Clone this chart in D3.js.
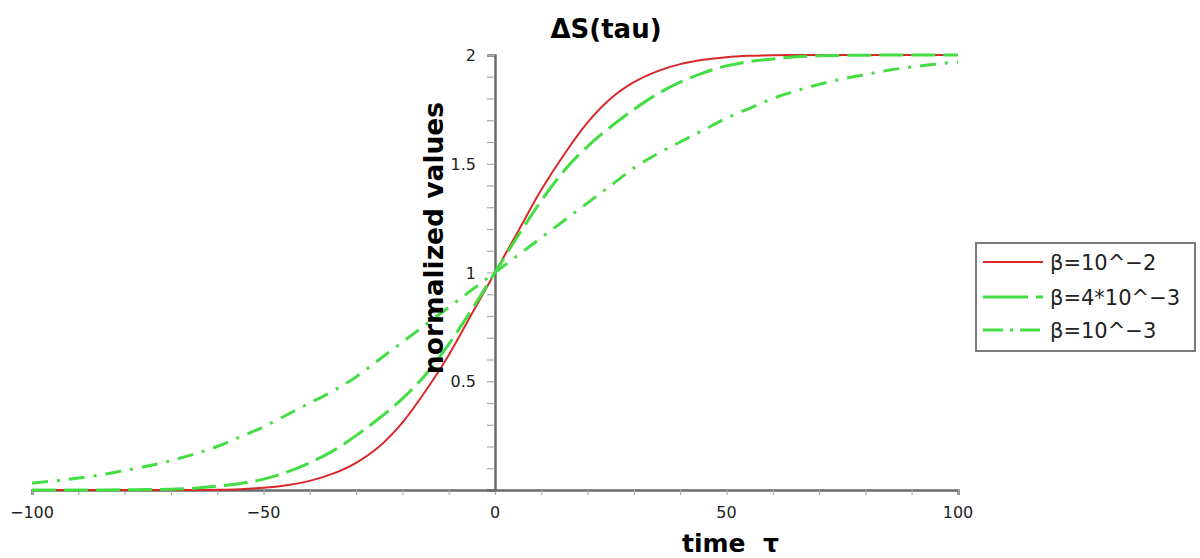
<!DOCTYPE html>
<html>
<head>
<meta charset="utf-8">
<script src="https://d3js.org/d3.v7.min.js"></script>
<style>
  body { margin: 0; background: #fff; }
  svg { display: block; }
  text { font-family: "DejaVu Sans", "Liberation Sans", sans-serif; }
</style>
</head>
<body>
<svg id="chart" width="1200" height="558"></svg>
<script>
// tau samples, every 5
const taus = [-100, -95, -90, -85, -80, -75, -70, -65, -60, -55, -50, -45, -40, -35, -30, -25, -20, -15, -10, -5,
  0, 5, 10, 15, 20, 25, 30, 35, 40, 45, 50, 55, 60, 65, 70, 75, 80, 85, 90, 95, 100];

// values
const beta1 = [0, 0, 0, 0, 0, 0, 0, 0, 0.001, 0.004, 0.01, 0.022, 0.042, 0.075, 0.125, 0.20, 0.31, 0.455, 0.62, 0.81,
  1, 1.19, 1.38, 1.545, 1.69, 1.80, 1.875, 1.925, 1.958, 1.978, 1.99, 1.996, 1.999, 2, 2, 2, 2, 2, 2, 2, 2];
const beta2 = [0, 0, 0, 0, 0.001, 0.002, 0.004, 0.008, 0.018, 0.03, 0.05, 0.082, 0.125, 0.18, 0.25, 0.33, 0.42, 0.53, 0.67, 0.83,
  1, 1.17, 1.33, 1.47, 1.58, 1.67, 1.75, 1.82, 1.875, 1.918, 1.95, 1.97, 1.982, 1.992, 1.996, 1.998, 1.999, 2, 2, 2, 2];
const beta3 = [0.032, 0.042, 0.055, 0.07, 0.09, 0.11, 0.135, 0.165, 0.20, 0.245, 0.29, 0.345, 0.40, 0.455, 0.52, 0.60, 0.68, 0.76, 0.84, 0.92,
  1, 1.08, 1.16, 1.24, 1.32, 1.40, 1.48, 1.545, 1.60, 1.655, 1.71, 1.755, 1.80, 1.835, 1.865, 1.89, 1.91, 1.93, 1.945, 1.958, 1.968];

const seriesNames = ['β=10^−2', 'β=4*10^−3', 'β=10^−3'];
const xTicks = [-100, -50, 0, 50, 100];
const yTicks = [0.5, 1, 1.5, 2];

const styles = [
  { color: '#d8282a', width: 2, dash: null, legendDash: null },
  { color: '#44dd44', width: 3, dash: '24,8', legendDash: '45,8' },
  { color: '#44dd44', width: 3, dash: '16,9,3,9', legendDash: '20,7,3,7' },
];

const svg = d3.select('svg#chart');

const x = d3.scaleLinear().domain([-100, 100]).range([32, 958]);
const y = d3.scaleLinear().domain([0, 2]).range([490, 55]);

// x axis (minor ticks every 10)
const xaxis = svg.append('g').attr('transform', 'translate(0,' + y(0) + ')');
xaxis.call(d3.axisBottom(x).tickValues(d3.range(-100, 101, 10)).tickSize(5).tickFormat(''));
xaxis.select('.domain').attr('stroke', '#6a6a6a').attr('stroke-width', 2.5);
xaxis.selectAll('.tick line').attr('stroke', '#aaa').attr('stroke-width', 1.2);

xaxis.selectAll('text.lab').data(xTicks).enter().append('text').classed('lab', true)
  .attr('x', d => x(d))
  .attr('y', 28)
  .attr('text-anchor', 'middle')
  .attr('font-size', 16)
  .attr('fill', '#222')
  .text(d => d3.format('')(d).replace('-', '−'));

// y axis (minor ticks every 0.1)
const yaxis = svg.append('g').attr('transform', 'translate(' + x(0) + ',0)');
yaxis.call(d3.axisLeft(y).tickValues(d3.range(1, 21).map(i => i / 10)).tickSize(8).tickFormat(''));
yaxis.select('.domain').attr('stroke', '#6a6a6a').attr('stroke-width', 2.5);
yaxis.selectAll('.tick line').attr('stroke', '#aaa').attr('stroke-width', 1.2);

yaxis.selectAll('text.lab').data(yTicks).enter().append('text').classed('lab', true)
  .attr('x', -19)
  .attr('y', d => y(d) + 6)
  .attr('text-anchor', 'end')
  .attr('font-size', 16)
  .attr('fill', '#222')
  .text(d => d);

// curves
const line = d3.line().x(d => x(d[0])).y(d => y(d[1])).curve(d3.curveMonotoneX);
const allSeries = [beta1, beta2, beta3];

svg.append('g').selectAll('path.curve').data(allSeries).enter().append('path').classed('curve', true)
  .attr('d', vals => line(taus.map((t, i) => [t, vals[i]])))
  .attr('fill', 'none')
  .attr('stroke', (d, i) => styles[i].color)
  .attr('stroke-width', (d, i) => styles[i].width)
  .attr('stroke-dasharray', (d, i) => styles[i].dash);

// titles
svg.append('text')
  .attr('x', 606).attr('y', 38)
  .attr('text-anchor', 'middle')
  .attr('font-size', 26).attr('font-weight', 'bold')
  .text('ΔS(tau)');

svg.append('text')
  .attr('transform', 'translate(443,238) rotate(-90)')
  .attr('text-anchor', 'middle')
  .attr('font-size', 26.5).attr('font-weight', 'bold')
  .text('normalized values');

svg.append('text')
  .attr('x', 682).attr('y', 552)
  .attr('font-size', 25).attr('font-weight', 'bold')
  .style('white-space', 'pre')
  .text('time  τ');

// legend
const legend = svg.append('g');
legend.append('rect')
  .attr('x', 976).attr('y', 243).attr('width', 219).attr('height', 108)
  .attr('fill', '#fff').attr('stroke', '#7a7a7a').attr('stroke-width', 2);

const rows = legend.selectAll('g.row').data(seriesNames).enter().append('g').classed('row', true)
  .attr('transform', (d, i) => 'translate(0,' + [262, 297, 330][i] + ')');
rows.append('line')
  .attr('x1', 983).attr('x2', 1043)
  .attr('stroke', (d, i) => styles[i].color)
  .attr('stroke-width', (d, i) => styles[i].width)
  .attr('stroke-dasharray', (d, i) => styles[i].legendDash);
rows.append('text')
  .attr('x', 1050).attr('y', 8)
  .attr('font-size', 21)
  .attr('fill', '#222')
  .text(d => d);
</script>
</body>
</html>
